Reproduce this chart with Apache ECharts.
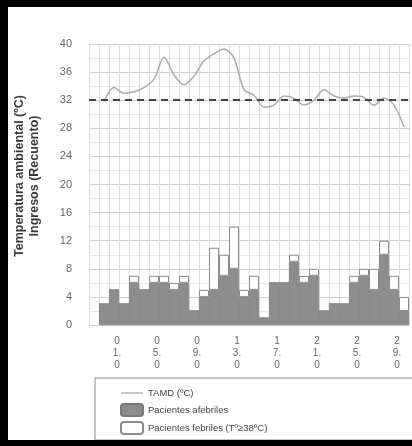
<!DOCTYPE html>
<html>
<head>
<meta charset="utf-8">
<script src="https://cdn.jsdelivr.net/npm/echarts@6/dist/echarts.min.js"></script>
<style>
  html, body { margin: 0; padding: 0; background: #fff; }
  #chart { width: 412px; height: 446px; }
</style>
</head>
<body>
<div id="chart"></div>
<script>
// fechas (dd.mm), una barra por día
const fechas = ['30.06', '01.07', '02.07', '03.07', '04.07', '05.07', '06.07', '07.07',
  '08.07', '09.07', '10.07', '11.07', '12.07', '13.07', '14.07', '15.07', '16.07',
  '17.07', '18.07', '19.07', '20.07', '21.07', '22.07', '23.07', '24.07', '25.07',
  '26.07', '27.07', '28.07', '29.07', '30.07'];
const afebriles = [3, 5, 3, 6, 5, 6, 6, 5, 6, 2, 4, 5, 7, 8, 4, 5, 1, 6, 6, 9, 6, 7, 2, 3, 3, 6, 7, 5, 10, 5, 2];
const febriles = [0, 0, 0, 1, 0, 1, 1, 1, 1, 0, 1, 6, 3, 6, 1, 2, 0, 0, 0, 1, 1, 1, 0, 0, 0, 1, 1, 3, 2, 2, 2];
const tamd = [31.8, 33.8, 33.0, 33.2, 33.8, 35.0, 38.1, 35.6, 34.2, 35.4, 37.6, 38.6, 39.3, 38.0, 33.5, 32.7,
  31.0, 31.3, 32.6, 32.3, 31.3, 32.0, 33.5, 32.6, 32.3, 32.6, 32.4, 31.3, 32.3, 31.3, 28.2];
const umbral = 32; // línea discontinua
const yTicks = [0, 40, 4];

var myChart = echarts.init(document.getElementById('chart'));

// hueco vacío al inicio del eje (como en la figura)
const cats = [''].concat(fechas);
const pad = arr => [null].concat(arr);

var option = {
  animation: false,
  textStyle: { fontFamily: 'Liberation Sans' },
  grid: { left: 89, top: 44, width: 320, height: 281 },
  xAxis: {
    type: 'category',
    data: cats,
    boundaryGap: true,
    axisLine: { show: false },
    axisTick: { show: false },
    axisLabel: {
      interval: (idx) => idx % 4 === 2,
      color: '#666',
      fontSize: 10,
      lineHeight: 12,
      margin: 10,
      padding: [0, 0, 0, 6],
      formatter: (v) => v ? v[0] + '\n' + v[1] + '.\n' + v[3] : ''
    },
    splitLine: { show: true, interval: 0, lineStyle: { color: '#dedede', width: 1 } }
  },
  yAxis: {
    type: 'value',
    min: yTicks[0],
    max: yTicks[1],
    interval: yTicks[2],
    axisLine: { show: false },
    axisTick: { show: false },
    axisLabel: { color: '#666', fontSize: 11, margin: 17 },
    splitLine: { lineStyle: { color: '#d0d0d0' } },
    minorTick: { show: false, splitNumber: 2 },
    minorSplitLine: { show: true, lineStyle: { color: '#eaeaea' } }
  },
  legend: {
    orient: 'vertical',
    left: 115,
    top: 382,
    itemWidth: 22,
    itemHeight: 12,
    itemGap: 4,
    textStyle: { color: '#444', fontSize: 9.5, lineHeight: 12 },
    data: [
      { name: 'TAMD (ºC)', itemStyle: { opacity: 0 },
        lineStyle: { color: '#a0a0a0', width: 1.2, opacity: 1 } },
      'Pacientes afebriles',
      'Pacientes febriles (Tº≥38ºC)'
    ]
  },
  series: [
    {
      name: 'Pacientes afebriles',
      type: 'bar',
      stack: 'p',
      barCategoryGap: 0,
      data: pad(afebriles),
      itemStyle: { color: '#8d8d8d', borderColor: '#777', borderWidth: 0.7 }
    },
    {
      name: 'Pacientes febriles (Tº≥38ºC)',
      type: 'bar',
      stack: 'p',
      barCategoryGap: 0,
      data: pad(febriles),
      itemStyle: { color: '#fff', borderColor: '#8a8a8a', borderWidth: 1 }
    },
    {
      name: 'TAMD (ºC)',
      type: 'line',
      smooth: 0.3,
      symbol: 'none',
      data: pad(tamd),
      lineStyle: { color: '#ababab', width: 1.5 },
      itemStyle: { color: '#ababab' },
      markLine: {
        silent: true,
        symbol: 'none',
        label: { show: false },
        lineStyle: { color: '#444', width: 2, type: [7, 5] },
        data: [{ yAxis: umbral }]
      }
    }
  ],
  graphic: [
    { type: 'rect', shape: { x: 95, y: 378, width: 330, height: 62 },
      style: { fill: '#fff', stroke: '#8a8a8a', lineWidth: 1 }, z: -1 },
    { type: 'text', x: 20, y: 176, rotation: Math.PI / 2,
      style: { text: 'Temperatura ambiental (ºC)', fill: '#3a3a3a', font: 'bold 12.5px Liberation Sans',
        textAlign: 'center', textVerticalAlign: 'middle' } },
    { type: 'text', x: 35, y: 176, rotation: Math.PI / 2,
      style: { text: 'Ingresos (Recuento)', fill: '#3a3a3a', font: 'bold 12.5px Liberation Sans',
        textAlign: 'center', textVerticalAlign: 'middle' } },
    // marco negro
    { type: 'rect', shape: { x: 0, y: 0, width: 8, height: 446 }, style: { fill: '#000' }, z: 10 },
    { type: 'rect', shape: { x: 0, y: 0, width: 412, height: 7 }, style: { fill: '#000' }, z: 10 },
    { type: 'rect', shape: { x: 0, y: 440, width: 412, height: 6 }, style: { fill: '#000' }, z: 10 }
  ]
};

myChart.setOption(option);
</script>
</body>
</html>
